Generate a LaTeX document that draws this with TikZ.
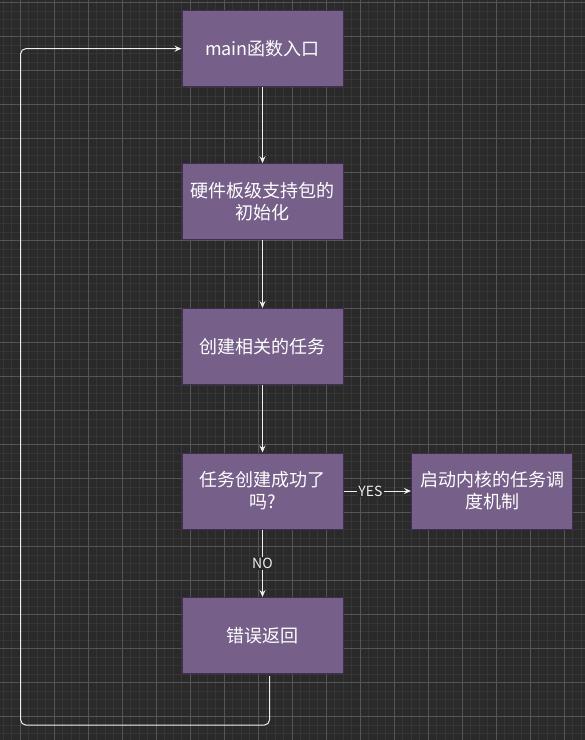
\documentclass[tikz,border=0pt]{standalone}
\usepackage{fontspec}
\newfontfamily\cjk{Noto Sans CJK SC}
\usetikzlibrary{arrows.meta}
\definecolor{bgcol}{HTML}{2A2A2A}
\definecolor{minorcol}{HTML}{363636}
\definecolor{majorcol}{HTML}{555555}
\definecolor{boxfill}{HTML}{76608A}
\definecolor{boxline}{HTML}{432D57}
\definecolor{flowcol}{HTML}{EEEEEE}
\begin{document}
\begin{tikzpicture}[x=1pt, y=-1pt, >={Stealth[length=7pt,width=6pt,inset=2.5pt]},
  box/.style={draw=boxline, fill=boxfill, line width=1pt, minimum width=161pt,
    minimum height=76pt, inner sep=0pt, align=center, text=white,
    font=\cjk\fontsize{18}{22}\selectfont},
  flow/.style={draw=flowcol, line width=1pt},
  lbl/.style={fill=bgcol, text=flowcol, inner sep=1pt, font=\cjk\fontsize{14}{16}\selectfont},
  minorline/.style={draw=minorcol, line width=0.8pt},
  majorline/.style={draw=majorcol, line width=1pt}]
\useasboundingbox (0,0) rectangle (585,740);
\fill[bgcol] (0,0) rectangle (585,740);

% grid
\foreach \i in {-2,...,66} \draw[minorline] ({20.3+8.5*\i},0) -- ({20.3+8.5*\i},740);
\foreach \j in {0,...,86} \draw[minorline] (0,{2.7+8.5*\j}) -- (585,{2.7+8.5*\j});
\foreach \i in {0,...,16} \draw[majorline] ({20.3+34*\i},0) -- ({20.3+34*\i},740);
\foreach \j in {0,...,21} \draw[majorline] (0,{2.7+34*\j}) -- (585,{2.7+34*\j});

\node[box](entry) at (262.5,48.7){main函数入口};
\node[box](bsp) at (262.5,201.7){硬件板级支持包的\\初始化};
\node[box](task) at (262.5,346.5){创建相关的任务};
\node[box](check) at (262.5,491){任务创建成功了\\吗?};
\node[box](sched) at (492,491){启动内核的任务调\\度机制};
\node[box](err) at (262.5,635.5){错误返回};
\coordinate(loopbl) at (20.7,725);

\draw[flow,->](entry) -- (bsp);
\draw[flow,->](bsp) -- (task);
\draw[flow,->](task) -- (check);
\draw[flow,->](check) -- node[lbl,pos=0.4]{YES} (sched);
\draw[flow,->](check) -- node[lbl]{NO} (err);
\draw[flow,->,rounded corners=5pt]([xshift=7pt,yshift=-2pt]err.south) |- (loopbl) |- (entry.west);
\end{tikzpicture}
\end{document}
